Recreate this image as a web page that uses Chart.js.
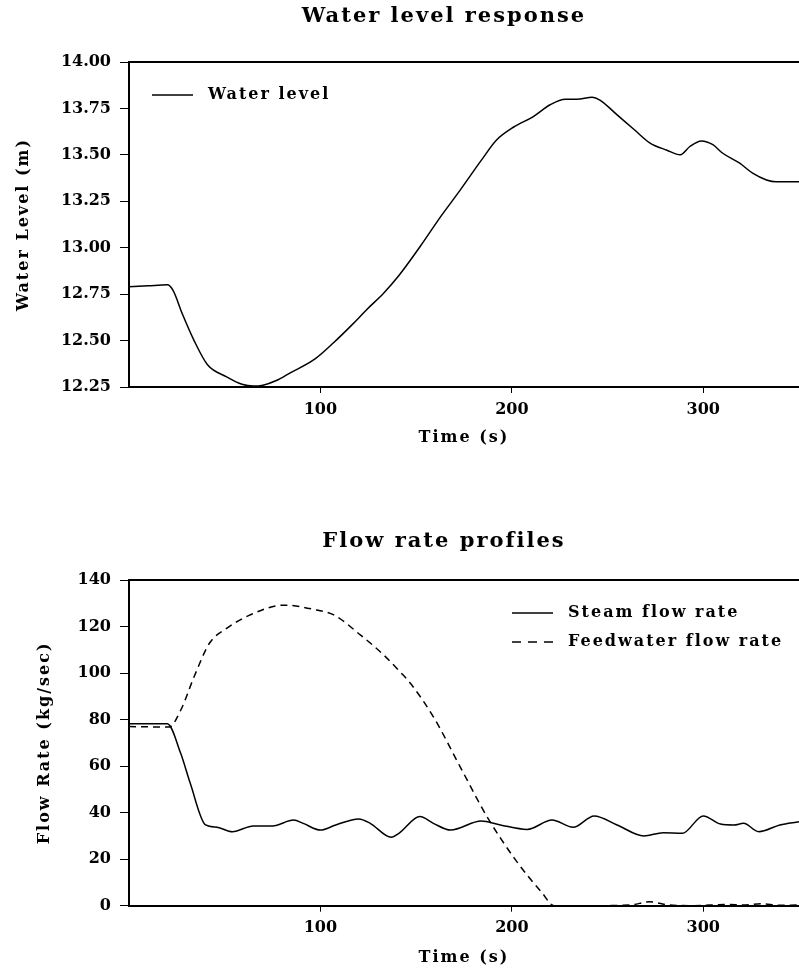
<!DOCTYPE html>
<html><head><meta charset="utf-8">
<script src="https://cdn.jsdelivr.net/npm/chart.js@4.4.1/dist/chart.umd.min.js"></script>
<style>
html,body{margin:0;padding:0;background:#fff;overflow:hidden;width:799px;height:971px;position:relative;}
#c1{position:absolute;left:0;top:0;}
#c2{position:absolute;left:0;top:500px;}
</style></head><body>
<canvas id="c1" width="888" height="470"></canvas>
<canvas id="c2" width="888" height="471"></canvas>
<script>
// ---- data ----
const levelTime  = [0,10,20,23,28,34,41,51,59,65,70,77,84,97,107,117,124,133,141,152,163,173,184,192,201,211,220,228,234,242,246,255,264,272,281,288,293,299,305,310,319,326,333,338,350];
const waterLevel = [12.79,12.795,12.80,12.77,12.64,12.50,12.37,12.305,12.265,12.255,12.26,12.285,12.325,12.40,12.49,12.59,12.665,12.755,12.85,13.005,13.17,13.31,13.47,13.58,13.65,13.705,13.77,13.80,13.80,13.81,13.795,13.715,13.635,13.565,13.525,13.50,13.545,13.575,13.555,13.51,13.455,13.40,13.365,13.355,13.355];

const steamTime  = [0,20,27,32,40,46,54,65,75,86,91,100,108,120,126,137,141,152,159,168,184,194,208,221,232,243,255,269,279,289,300,309,316,321,329,340,350];
const steamFlow  = [78.2,78.2,65.5,52.6,34.7,33.7,31.8,34.3,34.3,36.8,35.4,32.5,34.7,37.3,35.4,29.4,31.1,38.3,35.4,32.5,36.4,34.7,32.8,36.8,33.7,38.6,34.7,30.0,31.4,31.1,38.6,35.1,34.7,35.4,31.8,34.7,36.1];

const feedTime   = [0,21,27,34,42,51,63,81,98,107,121,133,141.5,147,159,173,187,202,216,222,240,262,272,281,295,312,322,330,340,350];
const feedFlow   = [77.0,76.8,84,98.4,112.8,119.2,124.9,129.2,127.1,125,116.3,107.8,100.6,95.6,81.2,59.7,38.3,19.6,5.3,0,0,0.3,1.7,0.4,0,0.5,0.3,0.8,0.2,0.3];

const timeTicks  = [100,200,300];
const levelTicks = [12.25,12.50,12.75,13.00,13.25,13.50,13.75,14.00];
const flowTicks  = [0,20,40,60,80,100,120,140];

const titleTop = 'Water level response';
const titleBottom = 'Flow rate profiles';
const xTitle = 'Time (s)';
const yTitleTop = 'Water Level (m)';
const yTitleBottom = 'Flow Rate (kg/sec)';
const labelLevel = 'Water level';
const labelSteam = 'Steam flow rate';
const labelFeed = 'Feedwater flow rate';

// ---- helpers ----
const FONT = '"DejaVu Serif", "Liberation Serif", serif';
const pts = (xs, ys) => xs.map((x, i) => ({x, y: ys[i]}));

const spacingPlugin = {
  id: 'spacing',
  beforeDraw(chart){ chart.ctx.letterSpacing = '2px'; },
  afterDatasetsDraw(chart){ chart.ctx.letterSpacing = '0px'; }
};
const frameTop = {
  id: 'frameTop',
  afterDraw(chart){
    const {ctx, chartArea:a} = chart;
    ctx.save(); ctx.strokeStyle = '#000'; ctx.lineWidth = 2;
    ctx.beginPath(); ctx.moveTo(a.left - 1, a.top); ctx.lineTo(a.right + 2, a.top); ctx.stroke();
    ctx.restore();
  }
};
const innerLegend = {
  id: 'innerLegend',
  afterDraw(chart, args, o){
    const {ctx, chartArea:a} = chart;
    ctx.save();
    ctx.font = 'bold 16px ' + FONT;
    ctx.letterSpacing = '2px';
    ctx.textBaseline = 'middle';
    ctx.fillStyle = '#000';
    chart.data.datasets.forEach((ds, i) => {
      const y = a.top + o.top + i * o.gap;
      const x0 = a.left + o.left;
      ctx.beginPath();
      ctx.setLineDash(ds.borderDash ? [9,7] : []);
      ctx.lineWidth = 1.5; ctx.strokeStyle = '#000';
      ctx.moveTo(x0, y); ctx.lineTo(x0 + 41, y); ctx.stroke();
      ctx.setLineDash([]);
      ctx.fillText(ds.label, x0 + 56, y);
    });
    ctx.restore();
  }
};

function xScale(padTick, padTitle, height){
  return {
    type: 'linear', min: 0, max: 350,
    afterBuildTicks: s => { s.ticks = timeTicks.map(v => ({value: v})); },
    afterFit: s => { s.height = height; },
    grid: { drawOnChartArea: false, drawTicks: true, tickLength: 6, color: '#000', lineWidth: 1 },
    border: { display: true, color: '#000', width: 2 },
    ticks: { z: 1, color: '#000', padding: padTick, maxRotation: 0, font: { family: FONT, size: 16, weight: 'bold' } },
    title: { display: true, text: xTitle, color: '#000', padding: { top: 0, bottom: padTitle }, font: { family: FONT, size: 16, weight: 'bold' } }
  };
}
function yScale(min, max, tickVals, fmt, title, titlePad){
  return {
    type: 'linear', min, max,
    afterBuildTicks: s => { s.ticks = tickVals.map(v => ({value: v})); },
    afterFit: s => { s.width = 129; },
    grid: { drawOnChartArea: false, drawTicks: true, tickLength: 9, color: '#000', lineWidth: 1 },
    border: { display: true, color: '#000', width: 2 },
    ticks: { z: 1, color: '#000', padding: 9, callback: fmt, font: { family: FONT, size: 16, weight: 'bold' } },
    title: { display: true, text: title, color: '#000', padding: { top: titlePad, bottom: 0 }, font: { family: FONT, size: 16, weight: 'bold' } }
  };
}
// invisible right-hand spacer axis: keeps the plot ending at the window edge
// while the (wider) canvas centres the title where the reference has it
const spacerAxis = {
  type: 'linear', position: 'right', display: true,
  afterFit: s => { s.width = 89; },
  grid: { display: false, drawTicks: false },
  border: { display: false },
  ticks: { display: false },
  title: { display: false }
};
const lineStyle = { borderColor: '#000', borderWidth: 1.5, pointRadius: 0, fill: false, cubicInterpolationMode: 'monotone' };

Chart.defaults.font.family = FONT;

new Chart(document.getElementById('c1'), {
  type: 'line',
  data: { datasets: [ Object.assign({ label: labelLevel, data: pts(levelTime, waterLevel) }, lineStyle) ] },
  options: {
    responsive: false, animation: false, devicePixelRatio: 1,
    layout: { padding: 0 },
    plugins: {
      legend: { display: false }, tooltip: { enabled: false },
      title: { display: true, text: titleTop, color: '#000', padding: { top: 4.4, bottom: 32.4 }, font: { family: FONT, size: 21, weight: 'bold' } },
      innerLegend: { left: 23, top: 33, gap: 29 }
    },
    scales: {
      x: xScale(7.4, 22.4, 83),
      y: yScale(12.25, 14.0, levelTicks, v => Number(v).toFixed(2), yTitleTop, 14.4),
      spacer: spacerAxis
    }
  },
  plugins: [spacingPlugin, frameTop, innerLegend]
});

new Chart(document.getElementById('c2'), {
  type: 'line',
  data: { datasets: [
    Object.assign({ label: labelSteam, data: pts(steamTime, steamFlow) }, lineStyle),
    Object.assign({ label: labelFeed, data: pts(feedTime, feedFlow), borderDash: [7,5] }, lineStyle)
  ] },
  options: {
    responsive: false, animation: false, devicePixelRatio: 1,
    layout: { padding: 0 },
    plugins: {
      legend: { display: false }, tooltip: { enabled: false },
      title: { display: true, text: titleBottom, color: '#000', padding: { top: 29.4, bottom: 25.4 }, font: { family: FONT, size: 21, weight: 'bold' } },
      innerLegend: { left: 383, top: 33, gap: 29 }
    },
    scales: {
      x: xScale(6.7, 3.4, 65.3),
      y: yScale(0, 140, flowTicks, v => String(v), yTitleBottom, 35.4),
      spacer: spacerAxis
    }
  },
  plugins: [spacingPlugin, frameTop, innerLegend]
});
</script>
</body></html>
